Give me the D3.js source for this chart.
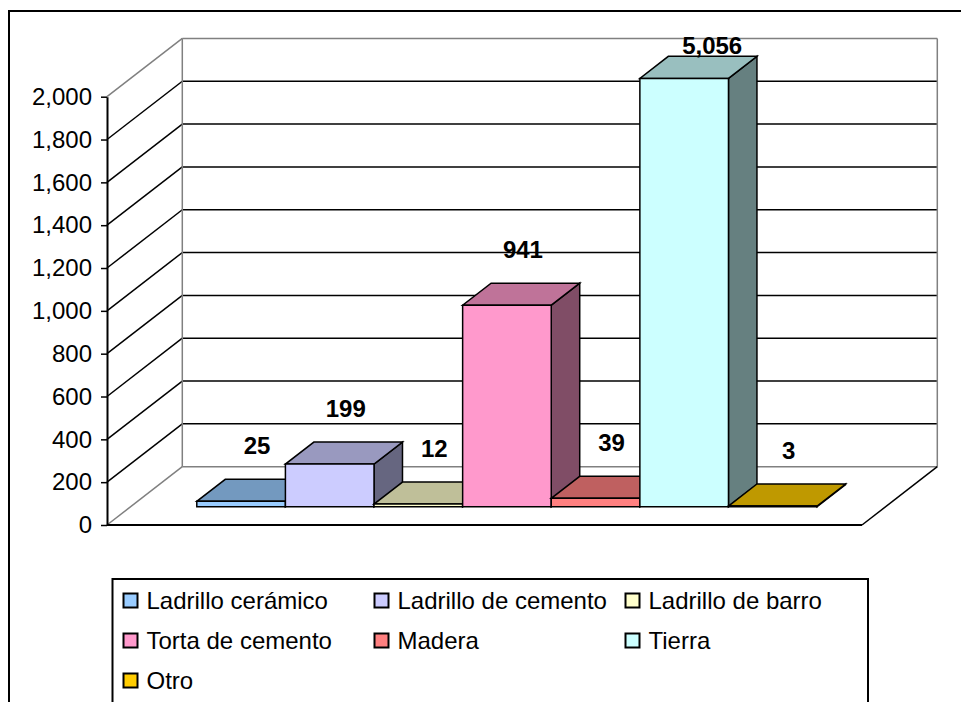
<!DOCTYPE html>
<html>
<head>
<meta charset="utf-8">
<script src="https://cdn.jsdelivr.net/npm/d3@7"></script>
<style>
  html, body { margin: 0; padding: 0; background: #fff; }
  svg { display: block; }
  text { font-family: "Liberation Sans", Arial, Helvetica, sans-serif; }
</style>
</head>
<body>
<svg id="chart" width="961" height="702"></svg>
<script>
// ---- data ----
const categories = ["Ladrillo cerámico", "Ladrillo de cemento", "Ladrillo de barro", "Torta de cemento", "Madera", "Tierra", "Otro"];
const values = [25, 199, 12, 941, 39, 5056, 3];
const colors = ["#99CCFF", "#CCCCFF", "#FFFFCC", "#FF99CC", "#FF8080", "#CCFFFF", "#FFCC00"];
const yTicks = [0, 200, 400, 600, 800, 1000, 1200, 1400, 1600, 1800, 2000];
const yMax = 2000;

// ---- layout ----
const svg = d3.select("#chart");
const X0 = 107, X1 = 862;     // front plane x extent
const DX = 75.3, DY = 58.3;   // depth offset (back wall)
const t0 = 0.314, t1 = 0.692; // bar depth (fraction of floor depth)
const fmt = d3.format(",");

const y = d3.scaleLinear().domain([0, yMax]).range([525, 96.7]);
const x = d3.scaleBand().domain(categories)
  .range([X0 + t0 * DX - 1.2, X1 + t0 * DX - 1.2])
  .paddingInner(0).paddingOuter(0.76);

const P = (px, v, t) => [px + t * DX, y(v) - t * DY];
const poly = pts => "M" + pts.map(p => p[0].toFixed(2) + "," + p[1].toFixed(2)).join("L") + "Z";
const line = (a, b) => "M" + a[0] + "," + a[1] + "L" + b[0] + "," + b[1];

svg.append("rect").attr("width", 961).attr("height", 702).attr("fill", "#fff");

// outer chart border
svg.append("rect").attr("x", 9).attr("y", 11).attr("width", 1000).attr("height", 1000)
  .attr("fill", "#fff").attr("stroke", "#000").attr("stroke-width", 2);

const g = svg.append("g");

// back wall, side wall & floor fills
g.append("path").attr("d", poly([P(X0, 0, 1), P(X1, 0, 1), P(X1, yMax, 1), P(X0, yMax, 1)])).attr("fill", "#fff");
g.append("path").attr("d", poly([P(X0, 0, 0), P(X0, 0, 1), P(X1, 0, 1), P(X1, 0, 0)])).attr("fill", "#fff");

// gridlines on back wall and side wall
yTicks.forEach(v => {
  const edge = (v === 0 || v === yMax);
  const col = edge ? "#808080" : "#000";
  g.append("path").attr("d", line(P(X0, v, 1), P(X1, v, 1)))
    .attr("stroke", col).attr("stroke-width", 1.5).attr("fill", "none");
  g.append("path").attr("d", line(P(X0, v, 0), P(X0, v, 1)))
    .attr("stroke", col).attr("stroke-width", 1.5).attr("fill", "none");
});
// back wall vertical edges
g.append("path").attr("d", line(P(X0, 0, 1), P(X0, yMax, 1))).attr("stroke", "#808080").attr("stroke-width", 1.5);
g.append("path").attr("d", line(P(X1, 0, 1), P(X1, yMax, 1))).attr("stroke", "#808080").attr("stroke-width", 1.5);
// floor front and right edges
g.append("path").attr("d", line(P(X0, 0, 0), P(X1, 0, 0))).attr("stroke", "#000").attr("stroke-width", 2);
g.append("path").attr("d", line(P(X1, 0, 0), P(X1, 0, 1))).attr("stroke", "#000").attr("stroke-width", 1.5);

// y axis
const axis = d3.axisLeft(y).tickValues(yTicks).tickFormat(fmt).tickSize(6).tickSizeOuter(0).tickPadding(9);
const ag = svg.append("g").attr("transform", `translate(${X0},0)`).call(axis);
ag.select(".domain").attr("stroke", "#000").attr("stroke-width", 2);
ag.selectAll(".tick line").attr("stroke", "#000").attr("stroke-width", 1.5);
ag.selectAll(".tick text").attr("font-size", 24).attr("fill", "#000")
  .style("font-family", '"Liberation Sans", Arial, sans-serif');

// bars (3D)
const shade = (c, k) => { const r = d3.rgb(c); return d3.rgb(r.r * k, r.g * k, r.b * k).formatHex(); };
const bw = x.bandwidth();
const bars = svg.append("g");
categories.forEach((c, i) => {
  const v = Math.min(values[i], yMax);
  const xl = x(c), xr = xl + bw;
  const col = colors[i];
  const st = { stroke: "#000", "stroke-width": 1.5, "stroke-linejoin": "miter" };
  const add = (d, fill) => {
    const p = bars.append("path").attr("d", d).attr("fill", fill);
    Object.entries(st).forEach(([k, val]) => p.attr(k, val));
  };
  // side (right) face
  add(poly([[xr, y(0) - t0 * DY], [xr + (t1 - t0) * DX, y(0) - t1 * DY],
            [xr + (t1 - t0) * DX, y(v) - t1 * DY], [xr, y(v) - t0 * DY]]), shade(col, 0.5));
  // top face
  add(poly([[xl, y(v) - t0 * DY], [xr, y(v) - t0 * DY],
            [xr + (t1 - t0) * DX, y(v) - t1 * DY], [xl + (t1 - t0) * DX, y(v) - t1 * DY]]), shade(col, 0.75));
  // front face
  add(poly([[xl, y(0) - t0 * DY], [xr, y(0) - t0 * DY], [xr, y(v) - t0 * DY], [xl, y(v) - t0 * DY]]), col);
});

// data labels
const labels = svg.append("g");
categories.forEach((c, i) => {
  const raw = values[i];
  const clipped = raw > yMax;
  const v = Math.min(raw, yMax);
  const cy = (y(v) - t0 * DY) - (clipped ? 33 : 56);
  labels.append("text")
    .attr("x", x(c) + bw / 2 + (clipped ? 28 : 16))
    .attr("y", cy + 8.5)
    .attr("text-anchor", "middle")
    .attr("font-size", 24).attr("font-weight", "bold").attr("fill", "#000")
    .text(fmt(raw));
});

// legend
const lg = svg.append("g");
lg.append("rect").attr("x", 112.5).attr("y", 579).attr("width", 755.5).attr("height", 300)
  .attr("fill", "#fff").attr("stroke", "#000").attr("stroke-width", 2);
categories.forEach((c, i) => {
  const col = i % 3, row = Math.floor(i / 3);
  const sx = 123.5 + col * 251, sy = 593.5 + row * 40;
  lg.append("rect").attr("x", sx).attr("y", sy).attr("width", 14).attr("height", 14)
    .attr("fill", colors[i]).attr("stroke", "#000").attr("stroke-width", 2);
  lg.append("text").attr("x", sx + 23).attr("y", 609 + row * 40)
    .attr("font-size", 24).attr("fill", "#000").text(c);
});
</script>
</body>
</html>
